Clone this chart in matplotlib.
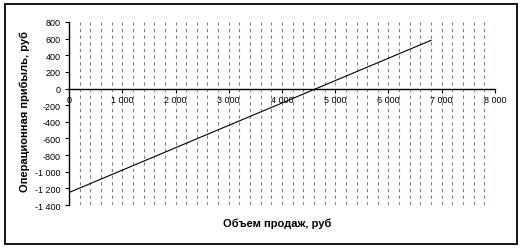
import numpy as np
import matplotlib.pyplot as plt
from matplotlib.patches import Rectangle
from matplotlib.ticker import FuncFormatter, MultipleLocator

plt.rcParams['font.family'] = ['Liberation Sans', 'DejaVu Sans']

# data
sales = [0, 6800]
profit = [-1250, 580]
x_ticks = [0, 1000, 2000, 3000, 4000, 5000, 6000, 7000, 8000]
y_ticks = [800, 600, 400, 200, 0, -200, -400, -600, -800, -1000, -1200, -1400]


def space_fmt(v, pos):
    return f"{int(v):,}".replace(",", " ")


fig = plt.figure(figsize=(5.24, 2.51), dpi=100)
fig.patches.append(Rectangle((5 / 524, 1 - 245 / 251), 512 / 524, 240 / 251,
                             transform=fig.transFigure, fill=False,
                             edgecolor='black', linewidth=1.3))

ax = fig.add_axes([69 / 524, 1 - 206 / 251, 426 / 524, 183 / 251])
ax.set_xlim(0, 8000)
ax.set_ylim(-1400, 800)

# vertical dashed grid every 200
for gx in np.arange(200, 8001, 200):
    ax.axvline(gx, color='#808080', linestyle=(0, (3, 3)), linewidth=0.8, zorder=1)

ax.plot(sales, profit, color='black', linewidth=0.8, zorder=3)

ax.spines['top'].set_visible(False)
ax.spines['right'].set_visible(False)
ax.spines['bottom'].set_position(('data', 0))
ax.spines['bottom'].set_linewidth(1.0)
ax.spines['left'].set_linewidth(1.0)

ax.set_xticks(x_ticks)
ax.set_yticks(y_ticks)
ax.xaxis.set_major_formatter(FuncFormatter(space_fmt))
ax.yaxis.set_major_formatter(FuncFormatter(space_fmt))
ax.tick_params(axis='x', direction='out', length=3, width=0.8, labelsize=6.5, pad=2)
ax.tick_params(axis='y', direction='out', length=3, width=0.8, labelsize=6.5, pad=3)
for lbl in ax.get_xticklabels():
    lbl.set_horizontalalignment('center')

fig.text(25 / 524, 1 - 112 / 251, 'Операционная прибыль, руб', rotation=90,
         ha='center', va='center', fontsize=8, fontweight='bold')
fig.text(277 / 524, 1 - 224 / 251, 'Объем продаж, руб', ha='center', va='center',
         fontsize=8, fontweight='bold')

fig.savefig('out.png', dpi=100)
